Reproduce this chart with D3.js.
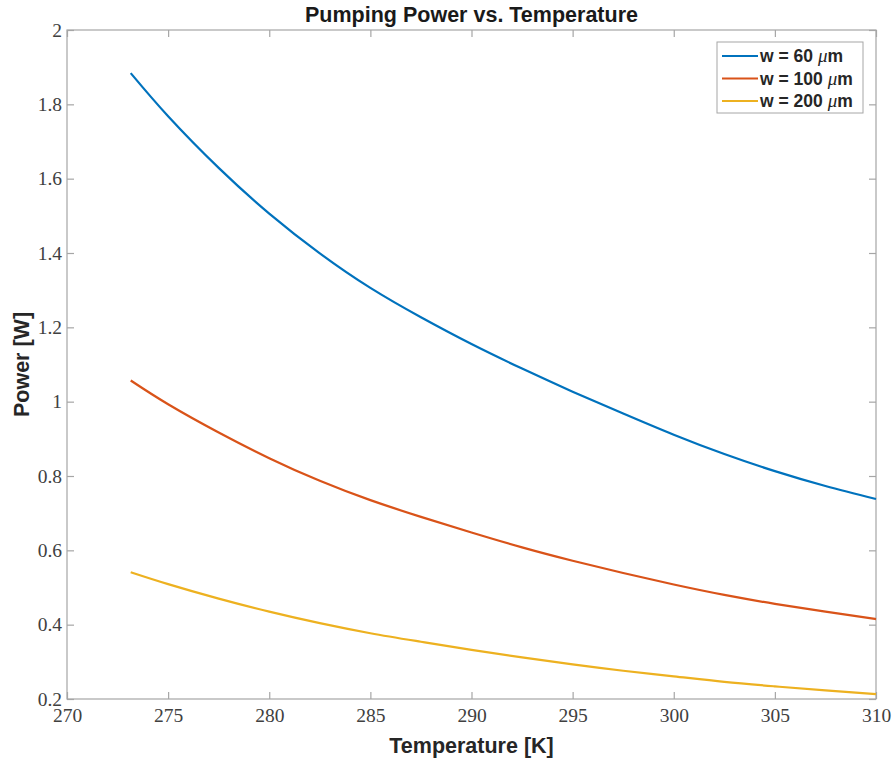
<!DOCTYPE html>
<html>
<head>
<meta charset="utf-8">
<script src="https://cdn.jsdelivr.net/npm/d3@7"></script>
<style>
  html, body { margin: 0; padding: 0; background: #fff; }
  svg { display: block; }
</style>
</head>
<body>
<svg id="chart" width="894" height="759"></svg>
<script>
// ---- data ----
const temperatures = [273.15, 275, 277.5, 280, 282.5, 285, 287.5, 290, 292.5, 295, 297.5, 300, 302.5, 305, 307.5, 310];
const power60  = [1.884, 1.768, 1.629, 1.506, 1.399, 1.306, 1.227, 1.155, 1.089, 1.027, 0.968, 0.911, 0.859, 0.813, 0.773, 0.738];
const power100 = [1.057, 0.993, 0.917, 0.848, 0.787, 0.735, 0.690, 0.648, 0.608, 0.572, 0.539, 0.508, 0.480, 0.456, 0.435, 0.415];
const power200 = [0.541, 0.509, 0.470, 0.435, 0.404, 0.377, 0.354, 0.332, 0.312, 0.293, 0.276, 0.261, 0.246, 0.234, 0.223, 0.213];
const seriesNames = ["w = 60 ", "w = 100 ", "w = 200 "];
const seriesColors = ["#0072BD", "#D95319", "#EDB120"];
const xTicks = [270, 275, 280, 285, 290, 295, 300, 305, 310];
const yTicks = [0.2, 0.4, 0.6, 0.8, 1, 1.2, 1.4, 1.6, 1.8, 2];
const titleText = "Pumping Power vs. Temperature";
const xLabelText = "Temperature [K]";
const yLabelText = "Power [W]";

const series = [power60, power100, power200];

// ---- layout ----
const svg = d3.select("#chart");
const L = 67, R = 876, T = 30, B = 699;
const x = d3.scaleLinear().domain([270, 310]).range([L, R]);
const y = d3.scaleLinear().domain([0.2, 2]).range([B, T]);

const axisColor = "#a6a6a6";
const textColor = "#404040";
const tickFont = "'Liberation Serif', 'DejaVu Serif', serif";
const sansFont = "'Liberation Sans', Arial, Helvetica, sans-serif";

// Box
svg.append("rect")
  .attr("x", L).attr("y", T).attr("width", R - L).attr("height", B - T)
  .attr("fill", "none").attr("stroke", axisColor).attr("stroke-width", 1.2);

const tickLen = 7;

// Bottom axis
const gx = svg.append("g").attr("transform", `translate(0,${B})`)
  .call(d3.axisBottom(x).tickValues(xTicks).tickSizeInner(-tickLen).tickSizeOuter(0).tickFormat(d3.format("d")));
// Top ticks
const gxt = svg.append("g").attr("transform", `translate(0,${T})`)
  .call(d3.axisTop(x).tickValues(xTicks).tickSizeInner(-tickLen).tickSizeOuter(0).tickFormat(""));
// Left axis
const gy = svg.append("g").attr("transform", `translate(${L},0)`)
  .call(d3.axisLeft(y).tickValues(yTicks).tickSizeInner(-tickLen).tickSizeOuter(0).tickFormat(d => d3.format("")(+d.toFixed(1))));
// Right ticks
const gyr = svg.append("g").attr("transform", `translate(${R},0)`)
  .call(d3.axisRight(y).tickValues(yTicks).tickSizeInner(-tickLen).tickSizeOuter(0).tickFormat(""));

[gx, gxt, gy, gyr].forEach(g => {
  g.select(".domain").remove();
  g.selectAll(".tick line").attr("stroke", axisColor).attr("stroke-width", 1.2);
  g.selectAll(".tick text").attr("fill", textColor).attr("font-family", tickFont).attr("font-size", 19.5);
});
gx.selectAll(".tick text").attr("dy", "0").attr("y", 23);
gy.selectAll(".tick text").attr("x", -5);

// Lines
const line = d3.line().x((d, i) => x(temperatures[i])).y(d => y(d)).curve(d3.curveNatural);
series.forEach((s, k) => {
  svg.append("path").datum(s)
    .attr("d", line)
    .attr("fill", "none")
    .attr("stroke", seriesColors[k])
    .attr("stroke-width", 2.2)
    .attr("stroke-linejoin", "round");
});

// Title
svg.append("text")
  .attr("x", (L + R) / 2).attr("y", 22)
  .attr("text-anchor", "middle")
  .attr("font-family", sansFont).attr("font-weight", "bold").attr("font-size", 21.5)
  .attr("fill", "#1a1a1a")
  .text(titleText);

// X label
svg.append("text")
  .attr("x", (L + R) / 2).attr("y", 753)
  .attr("text-anchor", "middle")
  .attr("font-family", sansFont).attr("font-weight", "bold").attr("font-size", 21.5)
  .attr("fill", "#262626")
  .text(xLabelText);

// Y label
svg.append("text")
  .attr("transform", `translate(29,${(T + B) / 2}) rotate(-90)`)
  .attr("text-anchor", "middle")
  .attr("font-family", sansFont).attr("font-weight", "bold").attr("font-size", 21.5)
  .attr("fill", "#262626")
  .text(yLabelText);

// Legend
const lg = svg.append("g");
lg.append("rect")
  .attr("x", 717).attr("y", 42).attr("width", 146).attr("height", 71)
  .attr("fill", "#fff").attr("stroke", axisColor).attr("stroke-width", 1);
seriesNames.forEach((name, k) => {
  const yy = 56 + k * 22.5;
  lg.append("line")
    .attr("x1", 722).attr("x2", 758).attr("y1", yy).attr("y2", yy)
    .attr("stroke", seriesColors[k]).attr("stroke-width", 2.2);
  const t = lg.append("text")
    .attr("x", 760).attr("y", yy + 6)
    .attr("font-family", sansFont).attr("font-weight", "bold").attr("font-size", 17.5)
    .attr("fill", "#262626");
  t.append("tspan").text(name);
  t.append("tspan").attr("font-family", tickFont).attr("font-style", "italic").attr("font-weight", "normal").attr("font-size", 19).text("\u03BC");
  t.append("tspan").text("m");
});
</script>
</body>
</html>
